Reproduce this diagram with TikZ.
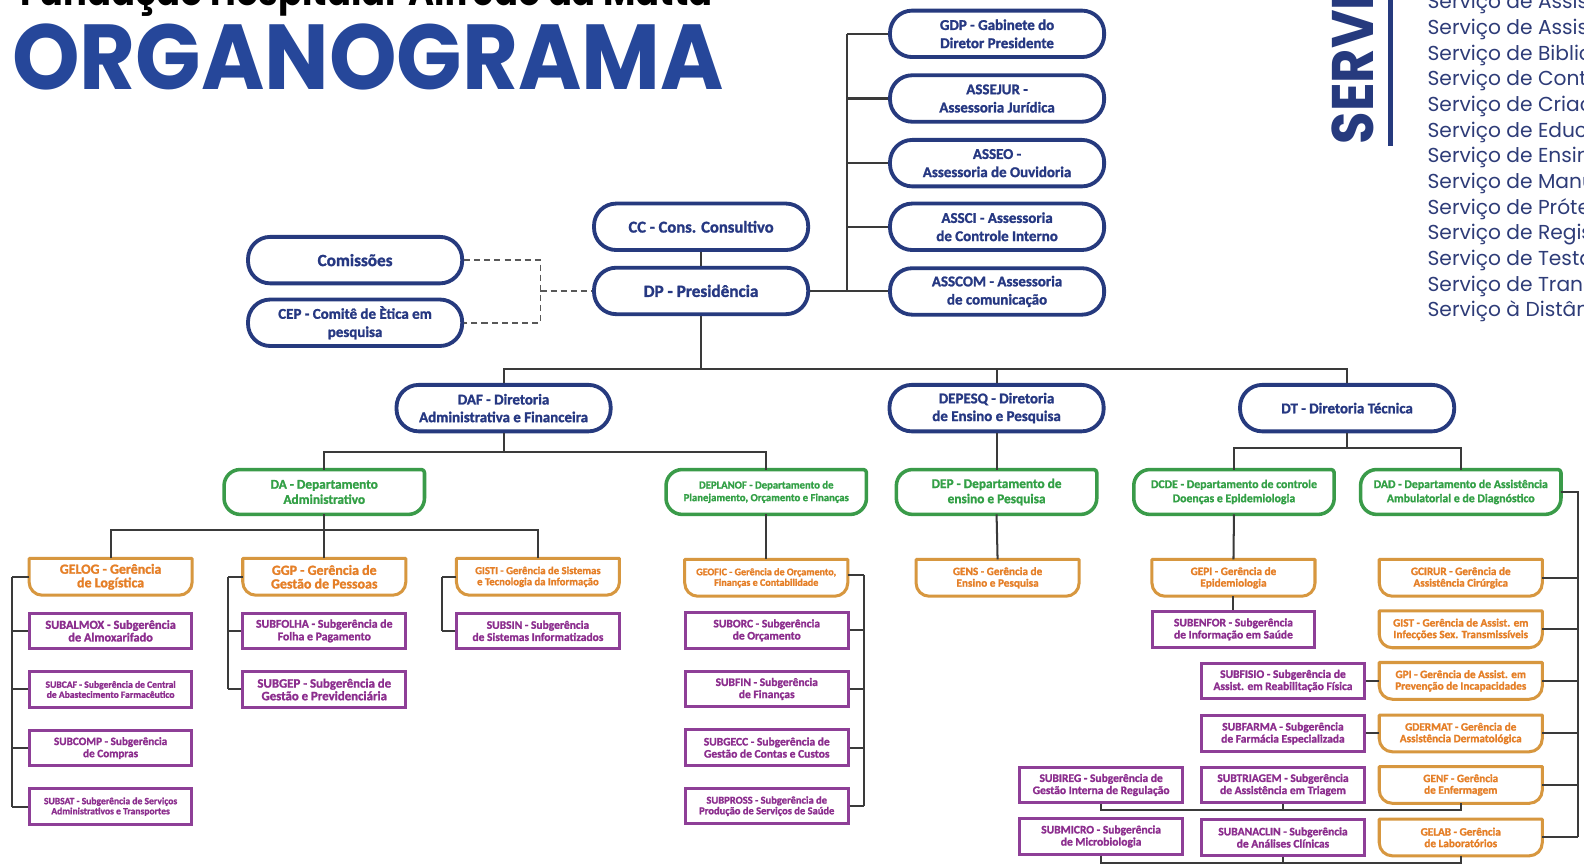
\documentclass[tikz,border=0pt]{standalone}
\usepackage{fontspec}
\usepackage{graphicx}
\setmainfont{Carlito}[BoldFeatures={FakeBold=1.4}]
\newfontfamily\poppins{Poppins}
\usetikzlibrary{calc}
\definecolor{navy}{HTML}{263A7E}
\definecolor{navytxt}{HTML}{263882}
\definecolor{titleblue}{HTML}{26479A}
\definecolor{grn}{HTML}{3A9B49}
\definecolor{grntxt}{HTML}{33A046}
\definecolor{orb}{HTML}{D7973F}
\definecolor{ortxt}{HTML}{E57F27}
\definecolor{purb}{HTML}{8E3F97}
\definecolor{purtxt}{HTML}{8C2E8E}
\definecolor{ln}{HTML}{3A3A3A}
\definecolor{listtxt}{HTML}{2E3C78}
\newcommand\orshape[1]{\draw[oborder] (#1.north west) -- (#1.north east) -- ([yshift=13pt]#1.south east) arc[start angle=0,end angle=-90,radius=13pt] -- ([xshift=13pt]#1.south west) arc[start angle=-90,end angle=-180,radius=13pt] -- cycle;}
\newcommand\grshape[1]{\draw[gborder] ([yshift=-16pt]#1.north west) arc[start angle=180,end angle=90,radius=16pt] -- ([xshift=-3pt]#1.north east) arc[start angle=90,end angle=0,radius=3pt] -- ([yshift=16pt]#1.south east) arc[start angle=0,end angle=-90,radius=16pt] -- ([xshift=16pt]#1.south west) arc[start angle=-90,end angle=-180,radius=16pt] -- cycle;}
\begin{document}
\begin{tikzpicture}[x=1pt,y=1pt,
 fsz/.style 2 args={font=\bfseries\fontsize{#1}{#2}\selectfont},
 navybox/.style={draw=navy, line width=3.8pt, rounded corners=22pt, minimum width=212pt, minimum height=46pt, text=navytxt, align=center, inner sep=0pt, fsz={14.8}{18}},
 grnbox/.style={minimum width=198pt, minimum height=44pt, text=grntxt, align=center, inner sep=0pt, fsz={13.2}{15}},
 orbox/.style={minimum width=161pt, minimum height=36pt, text=ortxt, align=center, inner sep=0pt, fsz={11.1}{11.5}},
 purbox/.style={draw=purb, line width=3pt, minimum width=161pt, minimum height=35pt, text=purtxt, align=center, inner sep=0pt, fsz={11.4}{12}},
 conn/.style={draw=ln, line width=2pt},
 dashconn/.style={draw=ln!85, line width=1.6pt, dash pattern=on 6pt off 4pt},
 gborder/.style={draw=grn, line width=3.5pt, line join=round},
 oborder/.style={draw=orb, line width=3pt, line join=round},
 listitem/.style={anchor=base west, inner sep=0pt, text=listtxt, font=\poppins\fontsize{20}{24}\selectfont}
]
\useasboundingbox (0,0) rectangle (1568,-856);
\fill[white] (0,0) rectangle (1568,-856);

% titles
\node[anchor=base west, inner sep=0pt, text=black] (fhtitle) at (20,-5) {\resizebox{685pt}{32pt}{\poppins\bfseries Fundação Hospitalar Alfredo da Matta}};
\node[anchor=base west, inner sep=0pt, text=titleblue] (title) at (12,-89) {\resizebox{704pt}{65pt}{\poppins\bfseries ORGANOGRAMA}};

% services column
\node[rotate=90, anchor=base west, inner sep=0pt, text=navy] (servi) at (1360,-143) {\scalebox{0.9}[1]{\poppins\bfseries\fontsize{58}{60}\selectfont SERVIÇOS}};
\fill[navy] (1374,0) rectangle (1379,-145);
\foreach \t [count=\i] in {Serviço de Assistência,Serviço de Assistência,Serviço de Biblioteca,Serviço de Controle,Serviço de Criação,Serviço de Educação,Serviço de Ensino,Serviço de Manutenção,Serviço de Prótese,Serviço de Registro,Serviço de Testagem,Serviço de Transporte,Serviço à Distância}
  \node[listitem] (srv\i) at (1413,{-8.7-(\i-1)*25.4}) {\t};

% navy boxes
\node[navybox] (gdp) at (987,-33.5) {GDP - Gabinete do\\Diretor Presidente};
\node[navybox] (assejur) at (987,-97.5) {ASSEJUR -\\Assessoria Jurídica};
\node[navybox] (asseo) at (987,-161.5) {ASSEO -\\Assessoria de Ouvidoria};
\node[navybox] (assci) at (987,-224.5) {ASSCI - Assessoria\\de Controle Interno};
\node[navybox] (asscom) at (987,-288.5) {ASSCOM - Assessoria\\de comunicação};
\node[navybox, fsz={16.4}{18}] (cc) at (694,-224.5) {CC - Cons. Consultivo};
\node[navybox, fsz={17}{18}] (dp) at (694,-288) {DP - Presidência};
\node[navybox, fsz={17}{18}] (com) at (351.5,-257.5) {Comissões};
\node[navybox] (cep) at (351.5,-319.5) {CEP - Comitê de Ètica em\\pesquisa};
\node[navybox, fsz={14.8}{17.5}] (daf) at (498.5,-404) {DAF - Diretoria\\Administrativa e Financeira};
\node[navybox, fsz={14.8}{17.5}] (depesq) at (986.5,-404) {DEPESQ - Diretoria\\de Ensino e Pesquisa};
\node[navybox] (dt) at (1333.5,-404) {DT - Diretoria Técnica};

% green boxes
\node[grnbox] (da) at (321,-487) {DA - Departamento\\Administrativo};
\node[grnbox, fsz={10.6}{12.5}] (deplanof) at (758.5,-487) {DEPLANOF - Departamento de\\Planejamento, Orçamento e Finanças};
\node[grnbox] (dep) at (986.5,-487) {DEP - Departamento de\\ensino e Pesquisa};
\node[grnbox, fsz={11.7}{14}] (dcde) at (1221.5,-487) {DCDE - Departamento de controle\\Doenças e Epidemiologia};
\node[grnbox, fsz={11.7}{14}] (dad) at (1446,-487) {DAD - Departamento de Assistência\\Ambulatorial e de Diagnóstico};
\foreach \n in {da,deplanof,dep,dcde,dad} \grshape{\n};

% orange boxes
\node[orbox, fsz={13.8}{13.5}] (gelog) at (109.5,-571) {GELOG - Gerência\\de Logística};
\node[orbox, fsz={13.8}{13.5}] (ggp) at (321,-571) {GGP - Gerência de\\Gestão de Pessoas};
\node[orbox, fsz={10.6}{11}] (gisti) at (532.5,-571) {GISTI - Gerência de Sistemas\\e Tecnologia da Informação};
\node[orbox, fsz={10}{10.5}] (geofic) at (758.5,-572) {GEOFIC - Gerência de Orçamento,\\Finanças e Contabilidade};
\node[orbox] (gens) at (987.5,-572) {GENS - Gerência de\\Ensino e Pesquisa};
\node[orbox] (gepi) at (1221,-572) {GEPI - Gerência de\\Epidemiologia};
\node[orbox] (gcirur) at (1446,-572) {GCIRUR - Gerência de\\Assistência Cirúrgica};
\node[orbox] (gist) at (1446,-623) {GIST - Gerência de Assist. em\\Infecções Sex. Transmissíveis};
\node[orbox] (gpi) at (1446,-674) {GPI - Gerência de Assist. em\\Prevenção de Incapacidades};
\node[orbox] (gdermat) at (1446,-726) {GDERMAT - Gerência de\\Assistência Dermatológica};
\node[orbox] (genf) at (1446,-777) {GENF - Gerência\\de Enfermagem};
\node[orbox] (gelab) at (1446,-829) {GELAB - Gerência\\de Laboratórios};
\foreach \n in {gelog,ggp,gisti,geofic,gens,gepi,gcirur,gist,gpi,gdermat,genf,gelab} \orshape{\n};

% purple boxes
\node[purbox, fsz={12.2}{12.5}] (subalmox) at (109.5,-624.5) {SUBALMOX - Subgerência\\de Almoxarifado};
\node[purbox, fsz={9.5}{10}] (subcaf) at (109.5,-682.5) {SUBCAF - Subgerência de Central\\de Abastecimento Farmacêutico};
\node[purbox, fsz={11.1}{12}] (subcomp) at (109.5,-740.5) {SUBCOMP - Subgerência\\de Compras};
\node[purbox, fsz={9.5}{10}] (subsat) at (109.5,-798.5) {SUBSAT - Subgerência de Serviços\\Administrativos e Transportes};
\node[purbox, fsz={11.7}{12.5}] (subfolha) at (321,-624.5) {SUBFOLHA - Subgerência de\\Folha e Pagamento};
\node[purbox, fsz={12.7}{12.5}] (subgep) at (321,-682.5) {SUBGEP - Subgerência de\\Gestão e Previdenciária};
\node[purbox] (subsin) at (532.5,-624.5) {SUBSIN - Subgerência\\de Sistemas Informatizados};
\node[purbox] (suborc) at (759,-624) {SUBORC - Subgerência\\de Orçamento};
\node[purbox] (subfin) at (759,-682) {SUBFIN - Subgerência\\de Finanças};
\node[purbox] (subgecc) at (759,-740) {SUBGECC - Subgerência de\\Gestão de Contas e Custos};
\node[purbox, fsz={10.4}{10.5}] (subpross) at (759,-798) {SUBPROSS - Subgerência de\\Produção de Serviços de Saúde};
\node[purbox] (subenfor) at (1221,-623) {SUBENFOR - Subgerência\\de Informação em Saúde};
\node[purbox] (subfisio) at (1270,-674) {SUBFISIO - Subgerência de\\Assist. em Reabilitação Física};
\node[purbox] (subfarma) at (1270,-726) {SUBFARMA - Subgerência\\de Farmácia Especializada};
\node[purbox] (subtriagem) at (1270,-777) {SUBTRIAGEM - Subgerência\\de Assistência em Triagem};
\node[purbox] (subanaclin) at (1270,-829) {SUBANACLIN - Subgerência\\de Análises Clínicas};
\node[purbox] (subireg) at (1090,-777) {SUBIREG - Subgerência de\\Gestão Interna de Regulação};
\node[purbox] (submicro) at (1090,-828) {SUBMICRO - Subgerência\\de Microbiologia};

% connectors: top
\draw[conn] (cc.south) -- (dp.north);
\coordinate (pbus) at (838,-288);
\draw[conn] (dp.east) -- (pbus);
\draw[conn] (gdp.west -| pbus) -- (asscom.west -| pbus);
\foreach \n in {gdp,assejur,asseo,assci,asscom} \draw[conn] (\n.west) -- (\n.west -| pbus);
\coordinate (dj) at (535,-288);
\draw[dashconn] (com.east) -- (com.east -| dj) -- (cep.east -| dj) -- (cep.east);
\draw[dashconn] (dj) -- (dp.west);

% directorates
\coordinate (dbus) at (694,-365);
\draw[conn] (dp.south) -- (dbus);
\draw[conn] (daf.north) |- (dbus) -| (dt.north);
\draw[conn] (depesq.north) -- (depesq.north |- dbus);

\coordinate (dafbus) at (498.5,-447);
\draw[conn] (daf.south) -- (dafbus);
\draw[conn] (da.north) |- (dafbus) -| (deplanof.north);
\draw[conn] (depesq.south) -- (dep.north);
\coordinate (dtbus) at (1333.5,-443);
\draw[conn] (dt.south) -- (dtbus);
\draw[conn] (dcde.north) |- (dtbus) -| (dad.north);

% DA branch
\coordinate (dabus) at (321,-525);
\draw[conn] (da.south) -- (dabus);
\draw[conn] (gelog.north) |- (dabus) -| (gisti.north);
\draw[conn] (ggp.north) -- (dabus);
\coordinate (c1) at (12,0);
\draw[conn] (gelog.west -| c1) -- (subsat.west -| c1);
\foreach \n in {gelog,subalmox,subcaf,subcomp,subsat} \draw[conn] (\n.west) -- (\n.west -| c1);
\coordinate (c2) at (226,0);
\draw[conn] (ggp.west -| c2) -- (subgep.west -| c2);
\foreach \n in {ggp,subfolha,subgep} \draw[conn] (\n.west) -- (\n.west -| c2);
\coordinate (c3) at (438,0);
\draw[conn] (gisti.west -| c3) -- (subsin.west -| c3);
\foreach \n in {gisti,subsin} \draw[conn] (\n.west) -- (\n.west -| c3);

% DEPLANOF branch
\draw[conn] (deplanof.south) -- (geofic.north);
\coordinate (c4) at (855,0);
\draw[conn] ([yshift=3pt]geofic.east -| c4) -- (subpross.east -| c4);
\draw[conn] ([yshift=3pt]geofic.east) -- ([yshift=3pt]geofic.east -| c4);
\foreach \n in {suborc,subfin,subgecc,subpross} \draw[conn] (\n.east) -- (\n.east -| c4);

% DEP, DCDE
\draw[conn] (dep.south) -- (gens.north);
\draw[conn] (dcde.south) -- (gepi.north);
\draw[conn] (gepi.south) -- (subenfor.north);

% DAD branch
\coordinate (c5) at (1562,0);
\draw[conn] (dad.east) -- (dad.east -| c5) -- (gelab.east -| c5);
\foreach \n in {gcirur,gist,gpi,gdermat,genf,gelab} \draw[conn] (\n.east) -- (\n.east -| c5);
\draw[conn] (subfisio.east) -- (gpi.west);
\draw[conn] (subfarma.east) -- (gdermat.west);
\coordinate (bb1) at (0,-802);
\draw[conn] (subireg.south) -- (subireg.south |- bb1) -- (genf.south |- bb1) -- (genf.south);
\draw[conn] (subtriagem.south) -- (subtriagem.south |- bb1);
\coordinate (bb2) at (0,-854);
\draw[conn] (submicro.south) -- (submicro.south |- bb2) -- (gelab.south |- bb2) -- (gelab.south);
\draw[conn] (subanaclin.south) -- (subanaclin.south |- bb2);
\end{tikzpicture}
\end{document}
